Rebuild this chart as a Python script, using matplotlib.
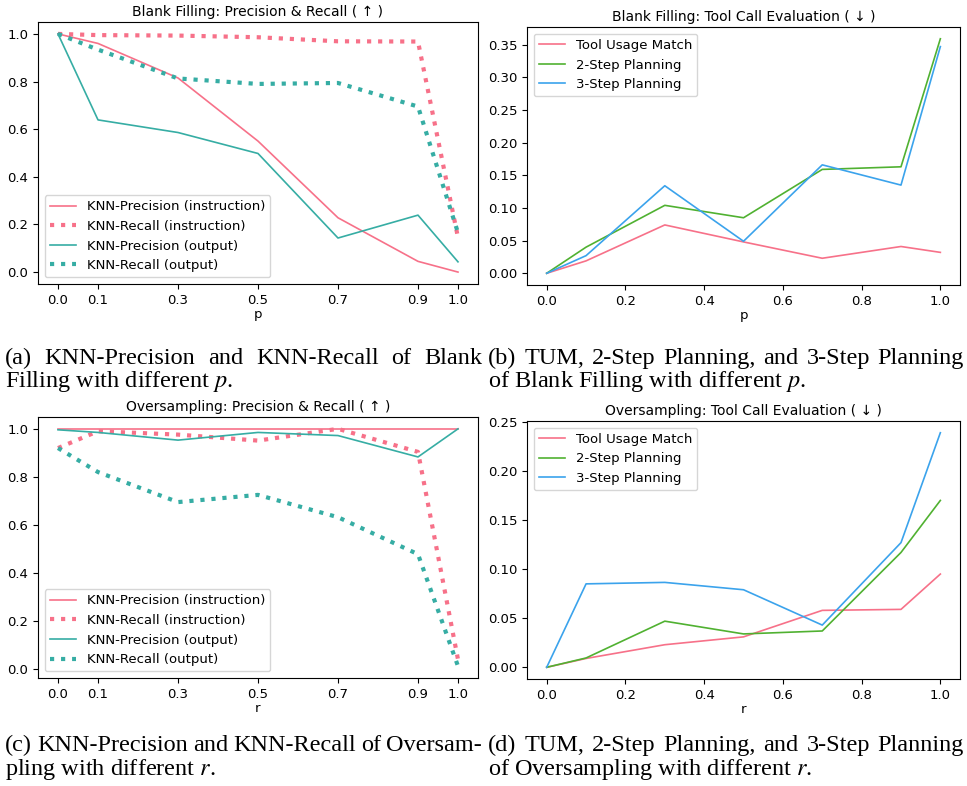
import matplotlib
matplotlib.use("Agg")
import matplotlib.pyplot as plt

# ---- data ----
x_vals = [0.0, 0.1, 0.3, 0.5, 0.7, 0.9, 1.0]

# Blank filling, precision / recall
bf_prec_instr = [1.0, 0.96, 0.815, 0.55, 0.228, 0.045, 0.0]
bf_rec_instr = [1.0, 0.995, 0.993, 0.986, 0.969, 0.968, 0.145]
bf_prec_out = [1.0, 0.639, 0.586, 0.498, 0.143, 0.239, 0.043]
bf_rec_out = [1.0, 0.934, 0.813, 0.79, 0.794, 0.695, 0.165]

# Blank filling, tool call evaluation
bf_tum = [0.0, 0.019, 0.074, 0.048, 0.023, 0.041, 0.032]
bf_step2 = [0.0, 0.040, 0.104, 0.085, 0.159, 0.163, 0.359]
bf_step3 = [0.0, 0.027, 0.134, 0.049, 0.166, 0.135, 0.347]

# Oversampling, precision / recall
os_prec_instr = [1.0, 1.0, 1.0, 1.0, 1.0, 1.0, 1.0]
os_rec_instr = [0.92, 0.99, 0.976, 0.951, 1.0, 0.904, 0.04]
os_prec_out = [0.996, 0.985, 0.953, 0.985, 0.972, 0.883, 1.0]
os_rec_out = [0.92, 0.82, 0.695, 0.725, 0.632, 0.478, 0.012]

# Oversampling, tool call evaluation
os_tum = [0.0, 0.009, 0.023, 0.031, 0.058, 0.059, 0.095]
os_step2 = [0.0, 0.0095, 0.047, 0.034, 0.037, 0.117, 0.170]
os_step3 = [0.0, 0.085, 0.0865, 0.079, 0.043, 0.127, 0.239]

pr_labels = ["KNN-Precision (instruction)", "KNN-Recall (instruction)",
             "KNN-Precision (output)", "KNN-Recall (output)"]
tc_labels = ["Tool Usage Match", "2-Step Planning", "3-Step Planning"]

captions = [
    ("(a) KNN-Precision and KNN-Recall of Blank", "Filling with different $p$."),
    ("(b) TUM, 2-Step Planning, and 3-Step Planning", "of Blank Filling with different $p$."),
    ("(c) KNN-Precision and KNN-Recall of Oversam-", "pling with different $r$."),
    ("(d) TUM, 2-Step Planning, and 3-Step Planning", "of Oversampling with different $r$."),
]

RED = "#f77189"
TEAL = "#36ada4"
GREEN = "#50b131"
BLUE = "#3ba3ec"

plt.rcParams["font.size"] = 9.5
plt.rcParams["mathtext.fontset"] = "stix"

fig = plt.figure(figsize=(9.67, 7.86), dpi=100)

ax_a = fig.add_axes([0.0393, 0.6387, 0.455, 0.3333])
ax_b = fig.add_axes([0.545, 0.6374, 0.4478, 0.3282])
ax_c = fig.add_axes([0.0393, 0.1374, 0.455, 0.3321])
ax_d = fig.add_axes([0.545, 0.1361, 0.4478, 0.3283])


def pr_panel(ax, p_in, r_in, p_out, r_out, title, xlabel):
    ax.plot(x_vals, p_in, color=RED, lw=1.2, label=pr_labels[0])
    ax.plot(x_vals, r_in, color=RED, lw=3, ls=":", label=pr_labels[1])
    ax.plot(x_vals, p_out, color=TEAL, lw=1.2, label=pr_labels[2])
    ax.plot(x_vals, r_out, color=TEAL, lw=3, ls=":", label=pr_labels[3])
    ax.set_xticks(x_vals)
    ax.set_yticks([0.0, 0.2, 0.4, 0.6, 0.8, 1.0])
    ax.set_title(title, fontsize=10, pad=4)
    ax.set_xlabel(xlabel, labelpad=1)
    ax.legend(loc="lower left")


def tc_panel(ax, tum, s2, s3, title, xlabel):
    ax.plot(x_vals, tum, color=RED, lw=1.2, label=tc_labels[0])
    ax.plot(x_vals, s2, color=GREEN, lw=1.2, label=tc_labels[1])
    ax.plot(x_vals, s3, color=BLUE, lw=1.2, label=tc_labels[2])
    ax.set_title(title, fontsize=10, pad=4)
    ax.set_xlabel(xlabel, labelpad=1)
    ax.legend(loc="upper left")


pr_panel(ax_a, bf_prec_instr, bf_rec_instr, bf_prec_out, bf_rec_out,
         "Blank Filling: Precision & Recall ( \u2191 )", "p")
tc_panel(ax_b, bf_tum, bf_step2, bf_step3,
         "Blank Filling: Tool Call Evaluation ( \u2193 )", "p")
pr_panel(ax_c, os_prec_instr, os_rec_instr, os_prec_out, os_rec_out,
         "Oversampling: Precision & Recall ( \u2191 )", "r")
tc_panel(ax_d, os_tum, os_step2, os_step3,
         "Oversampling: Tool Call Evaluation ( \u2193 )", "r")

# ---- captions (first line justified, second line left) ----
renderer = fig.canvas.get_renderer()
W, H = fig.get_size_inches() * fig.dpi
cap_fs = 17.5


def justify(words, x0, x1, y):
    texts = [fig.text(0, y / H, w, fontsize=cap_fs, family="Liberation Serif",
                      va="baseline", ha="left") for w in words]
    widths = [t.get_window_extent(renderer).width for t in texts]
    gap = max((x1 - x0 - sum(widths)) / (len(words) - 1), 3)
    pos = x0
    for t, w in zip(texts, widths):
        t.set_x(pos / W)
        pos += w + gap


cols = [(5, 482), (488, 964)]
rows = [(786 - 364, 786 - 387), (786 - 751, 786 - 775)]
for i, (l1, l2) in enumerate(captions):
    x0, x1 = cols[i % 2]
    y1, y2 = rows[i // 2]
    justify(l1.split(" "), x0, x1, y1)
    fig.text(x0 / W, y2 / H, l2, fontsize=cap_fs, family="Liberation Serif",
             va="baseline", ha="left")

fig.savefig("out.png", dpi=100)
